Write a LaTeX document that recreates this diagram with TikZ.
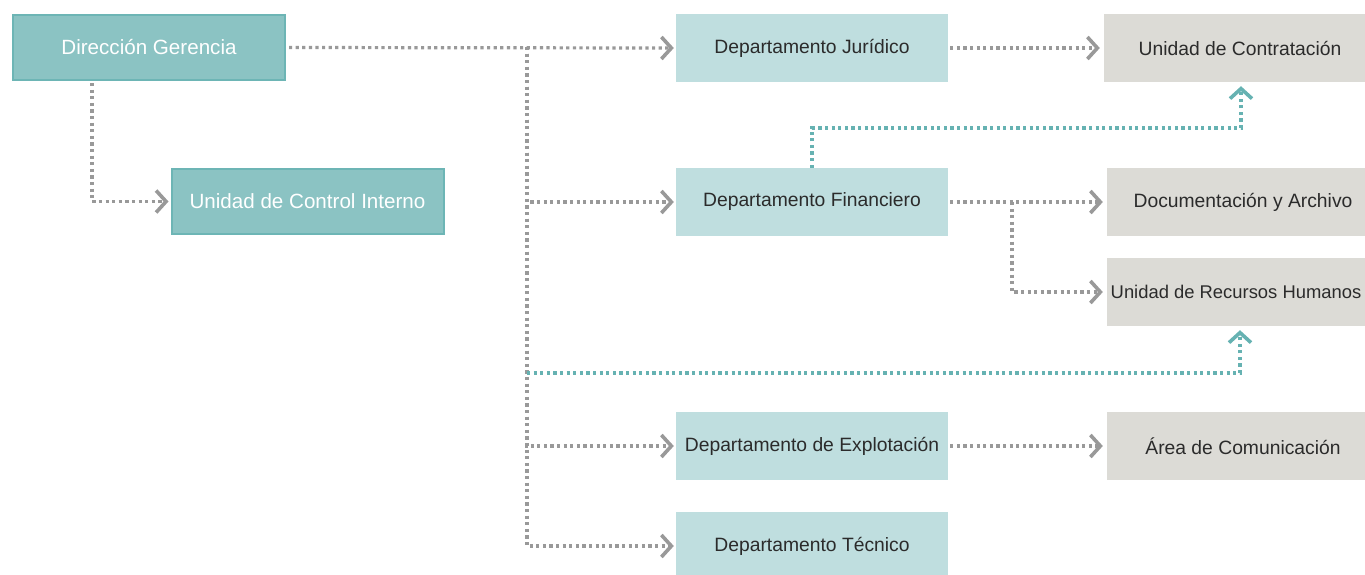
\documentclass[tikz,border=0pt]{standalone}
\usepackage{fontspec}
\setmainfont{Liberation Sans}
\usetikzlibrary{arrows.meta}
\definecolor{tealdark}{HTML}{8BC3C3}
\definecolor{tealborder}{HTML}{6DB5B5}
\definecolor{teallight}{HTML}{BFDEDF}
\definecolor{greybox}{HTML}{DCDBD6}
\definecolor{greyline}{HTML}{999999}
\definecolor{tealline}{HTML}{66B2B2}
\definecolor{txt}{HTML}{2B2B2B}
\tikzset{
  box/.style={minimum width=272pt, minimum height=68pt, inner sep=0pt, anchor=center,
    font=\fontsize{19.3}{22}\selectfont, text=txt},
  topbox/.style={box, fill=tealdark, draw=tealborder, line width=2pt, text=white,
    font=\fontsize{20.6}{24}\selectfont, minimum width=272pt, minimum height=65pt},
  deptbox/.style={box, fill=teallight},
  unitbox/.style={box, fill=greybox},
  chev/.style={-{Straight Barb[length=10pt,width=22pt,line width=3.6pt]}},
  gline/.style={draw=greyline, line width=3.2pt, dash pattern=on 3.2pt off 3.4pt, chev},
  tline/.style={draw=tealline, line width=3.2pt, dash pattern=on 3.2pt off 3.4pt, chev},
}
\begin{document}
\begin{tikzpicture}[x=1pt,y=-1pt]
\useasboundingbox (0,0) rectangle (1365,574);
% nodes
\node[topbox] (dg) at (149,47.5) {Dirección Gerencia};
\node[topbox] (uci) at (307.5,201.5) {Unidad de Control Interno};
\node[deptbox] (dj) at (812,48) {Departamento Jurídico};
\node[deptbox] (df) at (812,202) {Departamento Financiero};
\node[deptbox] (de) at (812,446) {Departamento de Explotación};
\node[deptbox] (dt) at (812,546) {Departamento Técnico};
\node[unitbox] (uc) at (1240,48) {Unidad de Contratación};
\node[unitbox] (da) at (1243,202) {Documentación y Archivo};
\node[unitbox, minimum width=258pt, font=\fontsize{18.4}{22}\selectfont] (rrhh) at (1236,292) {Unidad de Recursos Humanos};
\node[unitbox] (ac) at (1243,446) {Área de Comunicación};
% junction coordinates
\coordinate (dgb) at (92,83);
\coordinate (trunk) at (527,47);
\coordinate (trunkmid) at (527,373);
\coordinate (fbranch) at (1012,202);
\coordinate (ucup) at (1241,128);
\coordinate (rrup) at (1240,373);
% grey connectors
\draw[gline] (dgb) |- ([xshift=-2pt]uci.west);
\draw[gline] ([xshift=3pt]dg.east) -- ([xshift=-2pt]dj.west);
\draw[gline] (trunk) |- ([xshift=-2pt]dt.west);
\draw[gline] (trunk) |- ([xshift=-2pt]de.west);
\draw[gline] (trunk) |- ([xshift=-2pt]df.west);
\draw[gline] ([xshift=2pt]dj.east) -- ([xshift=-4pt]uc.west);
\draw[gline] ([xshift=2pt]df.east) -- ([xshift=-4pt]da.west);
\draw[gline] (fbranch) |- ([xshift=-4pt]rrhh.west);
\draw[gline] ([xshift=2pt]de.east) -- ([xshift=-4pt]ac.west);
% teal connectors
\draw[tline, shorten >=4pt] (df.north) |- (ucup) -- (uc.south -| ucup);
\draw[tline, shorten >=4pt] (trunkmid) -- (rrup) -- (rrhh.south -| rrup);
\end{tikzpicture}
\end{document}
